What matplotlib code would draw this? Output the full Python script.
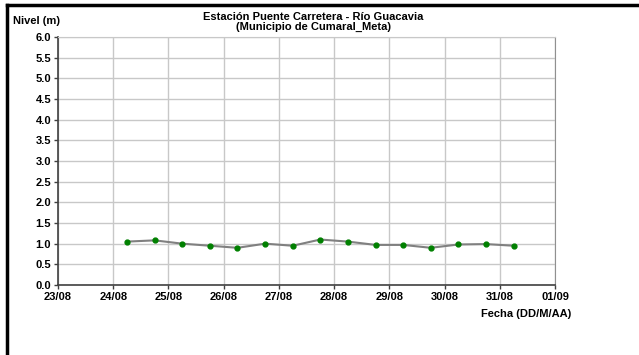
import matplotlib
matplotlib.use('Agg')
import matplotlib.pyplot as plt
import matplotlib.dates as mdates
import numpy as np
from datetime import datetime, timedelta

plt.rcParams['font.family'] = ['Liberation Sans', 'DejaVu Sans']
plt.rcParams['font.weight'] = 'bold'

# data: readings every 12 h from 24/08 06:00
start = datetime(2010, 8, 24, 6)
fechas = [start + timedelta(hours=12 * i) for i in range(15)]
nivel = [1.05, 1.08, 1.00, 0.95, 0.90, 1.00, 0.95, 1.10, 1.05, 0.97, 0.97, 0.90, 0.98, 0.99, 0.95]

fig = plt.figure(figsize=(6.39, 3.55), dpi=100)
ax = fig.add_axes([58 / 639, 1 - 285 / 355, (555 - 58) / 639, (285 - 37) / 355])

ax.plot(fechas, nivel, color='#808080', lw=1.5, marker='o', ms=3.5,
        mfc='#008000', mec='#008000', zorder=3)

ax.set_xlim(datetime(2010, 8, 23), datetime(2010, 9, 1))
ax.set_ylim(0, 6)
ax.set_yticks(np.arange(0, 6.01, 0.5))
ax.yaxis.set_major_formatter(plt.FormatStrFormatter('%.1f'))
ax.xaxis.set_major_locator(mdates.DayLocator())
ax.xaxis.set_major_formatter(mdates.DateFormatter('%d/%m'))
ax.grid(True, color='#c8c8c8', lw=1)
ax.set_axisbelow(True)
ax.tick_params(labelsize=8, length=3, width=1, color='#404040', pad=2)
for s in ['left', 'bottom']:
    ax.spines[s].set_color('#404040')
    ax.spines[s].set_linewidth(1.2)
ax.spines['right'].set_color('#909090')
ax.spines['top'].set_color('#c8c8c8')

fig.text(313 / 639, 1 - 17 / 355, 'Estación Puente Carretera - Río Guacavia',
         ha='center', va='center', fontsize=8, fontweight='bold')
fig.text(313 / 639, 1 - 27 / 355, '(Municipio de Cumaral_Meta)',
         ha='center', va='center', fontsize=8, fontweight='bold')
fig.text(13 / 639, 1 - 21 / 355, 'Nivel (m)', ha='left', va='center', fontsize=8, fontweight='bold')
fig.text(571 / 639, 1 - 314 / 355, 'Fecha (DD/M/AA)', ha='right', va='center', fontsize=8, fontweight='bold')

# outer frame lines (top and left)
fig.add_artist(plt.Line2D([7 / 639, 1], [1 - 5 / 355, 1 - 5 / 355], color='black', lw=2.5, transform=fig.transFigure))
fig.add_artist(plt.Line2D([7 / 639, 7 / 639], [0, 1 - 5 / 355], color='black', lw=2.5, transform=fig.transFigure))

fig.savefig('out.png', dpi=100)
